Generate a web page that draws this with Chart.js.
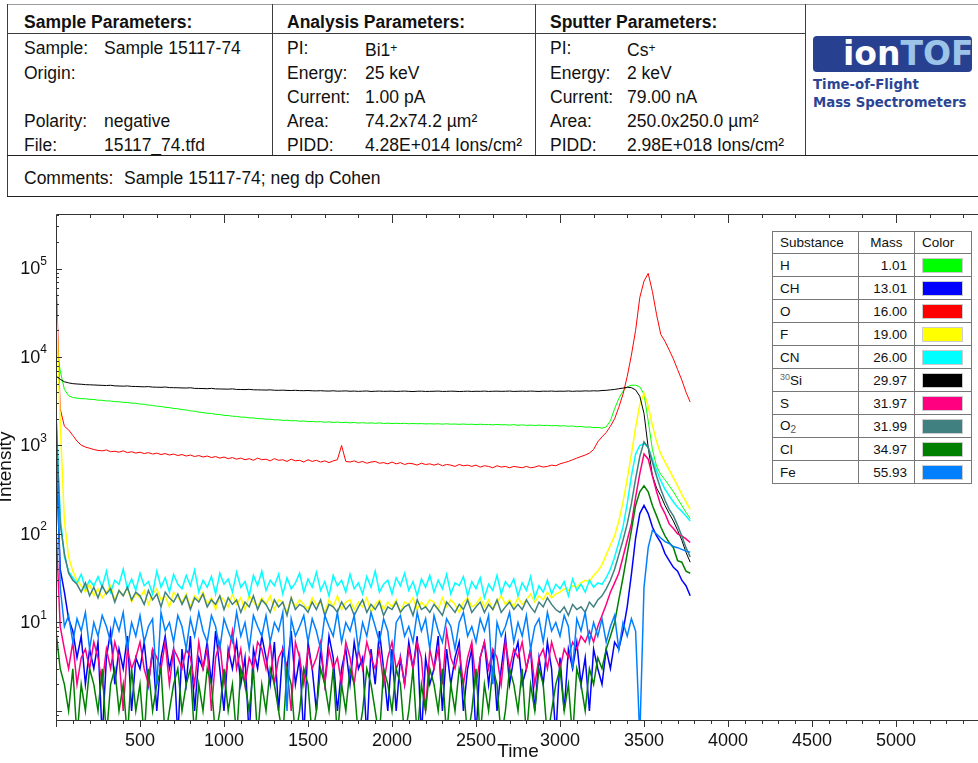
<!DOCTYPE html>
<html>
<head>
<meta charset="utf-8">
<title>Depth profile 15117_74</title>
<script src="https://cdn.jsdelivr.net/npm/chart.js@4.4.0/dist/chart.umd.min.js"></script>
<style>
    html, body { margin: 0; padding: 0; background: #fff; }
    body {
        width: 978px; height: 763px; overflow: hidden; position: relative;
        font-family: "Liberation Sans", Arial, sans-serif; color: #111;
    }
    .t { position: absolute; font-size: 17.5px; line-height: 20px; white-space: nowrap; }
    .b { font-weight: bold; }
    .ln { position: absolute; background: #3c3c3c; }
    .plus { font-size: 12px; vertical-align: 4px; }
    #logo {
        position: absolute; left: 813px; top: 36px; width: 159px; height: 36px;
        background: #27408f; border-radius: 4px; box-sizing: border-box;
        font-family: "DejaVu Sans", sans-serif; font-weight: bold; font-size: 33px;
        line-height: 36px; padding-left: 30px; color: #fff;
    }
    #logo span { color: #9cc3e8; }
    .logoText {
        position: absolute; left: 813px; font-family: "DejaVu Sans", sans-serif;
        font-weight: bold; font-size: 13.3px; line-height: 16px; color: #2b4594; white-space: nowrap;
    }
    #chartBox { position: absolute; left: -10px; top: 196px; width: 1000px; height: 567px; }
    #legendTable {
        position: absolute; left: 772px; top: 231px; width: 199px;
        border-collapse: collapse; table-layout: fixed; background: #fff;
        font-size: 13.5px; color: #111; border: 1px solid #555;
    }
    #legendTable td, #legendTable th {
        border: 1px solid #777; padding: 0 7px; height: 22px; font-weight: normal;
        white-space: nowrap; overflow: hidden;
    }
    #legendTable th { text-align: left; height: 21px; }
    #legendTable th.mass { text-align: center; padding: 0; }
    #legendTable td.mass { text-align: right; }
    .swatch { display: block; width: 39px; height: 13px; border: 1px solid #ccc; }
    .iso { font-size: 9px; vertical-align: 5px; color: #666; }
    .sub { font-size: 10px; vertical-align: -3px; color: #555; }
</style>
</head>
<body>

<!-- 上部のパラメータ表 -->
<div class="ln" style="left:7px;top:4px;width:971px;height:1px;background:#9a9a9a"></div>
<div class="ln" style="left:7px;top:4px;width:1px;height:193px"></div>
<div class="ln" style="left:7px;top:33px;width:798px;height:1px"></div>
<div class="ln" style="left:272px;top:4px;width:1px;height:152px"></div>
<div class="ln" style="left:535px;top:4px;width:1px;height:152px"></div>
<div class="ln" style="left:805px;top:4px;width:1px;height:152px"></div>
<div class="ln" style="left:7px;top:155px;width:971px;height:1px;background:#222"></div>
<div class="ln" style="left:7px;top:196px;width:971px;height:1px;background:#222"></div>

<div class="t b" style="left:24px;top:12px">Sample Parameters:</div>
<div class="t" style="left:24px;top:38px">Sample:</div><div class="t" style="left:104px;top:38px">Sample 15117-74</div>
<div class="t" style="left:24px;top:63px">Origin:</div>
<div class="t" style="left:24px;top:111px">Polarity:</div><div class="t" style="left:104px;top:111px">negative</div>
<div class="t" style="left:24px;top:135px">File:</div><div class="t" style="left:104px;top:135px">15117_74.tfd</div>

<div class="t b" style="left:287px;top:12px">Analysis Parameters:</div>
<div class="t" style="left:287px;top:38px">PI:</div><div class="t" style="left:365px;top:38px">Bi1<span class="plus">+</span></div>
<div class="t" style="left:287px;top:63px">Energy:</div><div class="t" style="left:365px;top:63px">25 keV</div>
<div class="t" style="left:287px;top:87px">Current:</div><div class="t" style="left:365px;top:87px">1.00 pA</div>
<div class="t" style="left:287px;top:111px">Area:</div><div class="t" style="left:365px;top:111px">74.2x74.2 µm²</div>
<div class="t" style="left:287px;top:135px">PIDD:</div><div class="t" style="left:365px;top:135px">4.28E+014 Ions/cm²</div>

<div class="t b" style="left:550px;top:12px">Sputter Parameters:</div>
<div class="t" style="left:550px;top:38px">PI:</div><div class="t" style="left:627px;top:38px">Cs<span class="plus">+</span></div>
<div class="t" style="left:550px;top:63px">Energy:</div><div class="t" style="left:627px;top:63px">2 keV</div>
<div class="t" style="left:550px;top:87px">Current:</div><div class="t" style="left:627px;top:87px">79.00 nA</div>
<div class="t" style="left:550px;top:111px">Area:</div><div class="t" style="left:627px;top:111px">250.0x250.0 µm²</div>
<div class="t" style="left:550px;top:135px">PIDD:</div><div class="t" style="left:627px;top:135px">2.98E+018 Ions/cm²</div>

<div id="logo">ion<span>TOF</span></div>
<div class="logoText" style="top:77px">Time-of-Flight</div>
<div class="logoText" style="top:95px">Mass Spectrometers</div>

<div class="t" style="left:24px;top:168px">Comments:</div>
<div class="t" style="left:124px;top:168px">Sample 15117-74; neg dp Cohen</div>

<div id="chartBox"><canvas id="depthChart" width="1000" height="567"></canvas></div>
<table id="legendTable"></table>

<script>
// 凡例の物質・質量・色
const substances = ['H', 'CH', 'O', 'F', 'CN', '30Si', 'S', 'O2', 'Cl', 'Fe'];
const masses = ['1.01', '13.01', '16.00', '19.00', '26.00', '29.97', '31.97', '31.99', '34.97', '55.93'];
const colors = ['#00ff00', '#0000ff', '#ff0000', '#ffff00', '#00ffff', '#000000', '#ff0080', '#408080', '#008000', '#0080ff'];

// 軸の目盛りラベル
const xTickLabels = [500, 1000, 1500, 2000, 2500, 3000, 3500, 4000, 4500, 5000];
const yTickExponents = [1, 2, 3, 4, 5];

// 測定時間 (s)
const time = [
    0, 25, 50, 75, 100, 125, 150, 175, 200, 225,
    250, 275, 300, 325, 350, 375, 400, 425, 450, 475,
    500, 525, 550, 575, 600, 625, 650, 675, 700, 725,
    750, 775, 800, 825, 850, 875, 900, 925, 950, 975,
    1000, 1025, 1050, 1075, 1100, 1125, 1150, 1175, 1200, 1225,
    1250, 1275, 1300, 1325, 1350, 1375, 1400, 1425, 1450, 1475,
    1500, 1525, 1550, 1575, 1600, 1625, 1650, 1675, 1700, 1725,
    1750, 1775, 1800, 1825, 1850, 1875, 1900, 1925, 1950, 1975,
    2000, 2025, 2050, 2075, 2100, 2125, 2150, 2175, 2200, 2225,
    2250, 2275, 2300, 2325, 2350, 2375, 2400, 2425, 2450, 2475,
    2500, 2525, 2550, 2575, 2600, 2625, 2650, 2675, 2700, 2725,
    2750, 2775, 2800, 2825, 2850, 2875, 2900, 2925, 2950, 2975,
    3000, 3025, 3050, 3075, 3100, 3125, 3150, 3175, 3200, 3225,
    3250, 3275, 3300, 3325, 3350, 3375, 3400, 3425, 3450, 3475,
    3500, 3525, 3550, 3575, 3600, 3625, 3650, 3675, 3700, 3725,
    3750, 3775
];

// 各イオンの強度 (counts)
const hydrogen = [
    15000, 7000, 4300, 3650, 3480, 3430, 3380, 3370, 3320, 3310,
    3250, 3240, 3190, 3180, 3130, 3120, 3070, 3060, 3010, 3000,
    2940, 2920, 2860, 2840, 2780, 2760, 2700, 2680, 2620, 2600,
    2540, 2520, 2460, 2440, 2380, 2360, 2310, 2300, 2250, 2240,
    2190, 2180, 2140, 2130, 2090, 2090, 2050, 2050, 2010, 2010,
    1980, 1980, 1950, 1950, 1920, 1930, 1900, 1910, 1880, 1890,
    1860, 1870, 1850, 1860, 1830, 1850, 1820, 1840, 1810, 1830,
    1800, 1820, 1790, 1810, 1790, 1800, 1780, 1800, 1770, 1790,
    1770, 1780, 1770, 1780, 1760, 1770, 1760, 1770, 1750, 1760,
    1750, 1760, 1740, 1760, 1740, 1750, 1730, 1750, 1730, 1740,
    1720, 1740, 1720, 1730, 1710, 1730, 1710, 1720, 1700, 1720,
    1690, 1710, 1690, 1700, 1680, 1700, 1680, 1690, 1670, 1680,
    1660, 1670, 1650, 1660, 1630, 1640, 1610, 1620, 1590, 1600,
    1570, 1620, 1900, 2600, 3400, 4100, 4600, 4800, 4800, 4600,
    3800, 1900, 900, 580, 470, 410, 350, 300, 250, 210,
    175, 150
];
const ch = [
    900, 40, 22, 11, 8, 4, 7, 2, 5, 3,
    6, 0.5, 4, 8, 2, 5, 3, 7, 1, 4,
    3, 6, 2, 5, 1, 4, 7, 3, 5, 0.5,
    5, 2, 7, 1, 4, 3, 6, 2, 8, 3,
    1, 5, 3, 6, 2, 4, 0.5, 5, 3, 7,
    4, 2, 6, 1, 5, 3, 8, 2, 4, 0.5,
    6, 3, 1, 5, 2, 7, 4, 1, 3, 5,
    2, 6, 3, 4, 0.5, 5, 2, 8, 3, 1,
    5, 1, 4, 2, 6, 3, 7, 0.5, 4, 2,
    3, 7, 1, 5, 2, 4, 6, 1, 3, 5,
    0.5, 4, 6, 2, 5, 1, 3, 7, 2, 4,
    6, 2, 3, 5, 1, 4, 2, 6, 3, 0.5,
    4, 1, 5, 3, 6, 2, 4, 1, 5, 3,
    2, 5, 3, 6, 5, 8, 15, 35, 90, 170,
    210, 170, 120, 95, 80, 60, 50, 42, 38, 30,
    26, 20
];
const oxygen = [
    88000, 2600, 1650, 1500, 1300, 1120, 1010, 960, 930, 900,
    880, 870, 890, 850, 860, 840, 870, 830, 850, 820,
    840, 810, 830, 800, 820, 790, 810, 780, 800, 770,
    790, 760, 780, 750, 770, 740, 760, 730, 750, 720,
    740, 710, 730, 700, 720, 690, 710, 680, 720, 690,
    700, 670, 710, 680, 690, 660, 700, 670, 680, 650,
    690, 660, 680, 650, 670, 640, 670, 690, 1000, 660,
    650, 670, 640, 660, 630, 650, 660, 630, 640, 620,
    650, 620, 640, 610, 630, 620, 600, 630, 610, 620,
    600, 620, 590, 610, 600, 580, 610, 590, 600, 580,
    600, 570, 590, 580, 560, 590, 570, 580, 560, 580,
    570, 560, 580, 560, 570, 590, 570, 580, 600, 590,
    620, 640, 660, 690, 720, 750, 780, 820, 900, 1100,
    1250, 1400, 1650, 2000, 2700, 3800, 6000, 10500, 20000, 47000,
    72000, 88000, 55000, 30000, 18000, 15000, 12000, 9500, 7200, 5500,
    4000, 3100
];
const fluorine = [
    50000, 1800, 140, 55, 38, 30, 26, 22, 27, 20,
    24, 19, 22, 26, 18, 23, 20, 25, 17, 21,
    19, 23, 16, 21, 24, 18, 20, 15, 22, 19,
    17, 21, 15, 20, 18, 22, 16, 19, 14, 20,
    18, 15, 21, 16, 19, 14, 20, 17, 15, 19,
    16, 20, 14, 18, 17, 13, 19, 15, 18, 16,
    14, 19, 16, 17, 13, 18, 15, 20, 14, 17,
    18, 14, 17, 15, 19, 13, 16, 18, 14, 17,
    15, 18, 13, 17, 16, 19, 14, 17, 15, 18,
    17, 14, 19, 15, 18, 16, 13, 17, 19, 15,
    16, 19, 15, 18, 14, 17, 20, 16, 18, 15,
    19, 16, 18, 21, 17, 20, 18, 22, 19, 21,
    22, 24, 23, 26, 25, 28, 30, 29, 34, 38,
    45, 58, 75, 95, 140, 230, 420, 800, 1600, 2900,
    3900, 2800, 1700, 1100, 800, 650, 530, 430, 350, 280,
    230, 190
];
const cn = [
    2500, 160, 55, 38, 32, 28, 35, 24, 30, 26,
    33, 25, 38, 22, 30, 27, 40, 24, 31, 23,
    36, 26, 29, 21, 38, 25, 32, 22, 35, 27,
    24, 34, 26, 39, 22, 30, 25, 33, 21, 36,
    27, 31, 22, 37, 25, 29, 20, 34, 26, 38,
    23, 30, 26, 35, 21, 32, 24, 28, 36, 22,
    31, 25, 37, 23, 29, 20, 34, 26, 30, 22,
    35, 24, 28, 21, 33, 25, 38, 22, 27, 30,
    21, 32, 26, 36, 23, 29, 20, 31, 25, 34,
    22, 30, 24, 35, 21, 28, 26, 33, 20, 29,
    24, 32, 19, 27, 23, 34, 21, 29, 25, 31,
    20, 28, 23, 33, 19, 26, 22, 30, 21, 27,
    24, 29, 20, 31, 23, 27, 22, 30, 25, 28,
    27, 32, 40, 55, 80, 120, 220, 450, 800, 1000,
    1050, 950, 700, 520, 400, 320, 270, 230, 200, 180,
    160, 140
];
const si30 = [
    6100, 5600, 5250, 5100, 5000, 4950, 4920, 4870, 4850, 4830,
    4800, 4780, 4760, 4790, 4720, 4700, 4680, 4710, 4650, 4640,
    4620, 4600, 4630, 4570, 4560, 4540, 4580, 4510, 4500, 4490,
    4470, 4460, 4490, 4420, 4410, 4400, 4380, 4420, 4360, 4350,
    4340, 4330, 4360, 4300, 4290, 4280, 4310, 4260, 4250, 4240,
    4230, 4250, 4210, 4200, 4220, 4190, 4180, 4200, 4170, 4160,
    4180, 4150, 4140, 4160, 4130, 4120, 4150, 4110, 4120, 4140,
    4100, 4120, 4090, 4110, 4130, 4080, 4100, 4120, 4090, 4100,
    4110, 4080, 4100, 4120, 4090, 4070, 4100, 4110, 4080, 4090,
    4100, 4120, 4080, 4090, 4110, 4100, 4070, 4090, 4110, 4080,
    4100, 4090, 4120, 4080, 4100, 4110, 4090, 4100, 4120, 4080,
    4100, 4110, 4090, 4120, 4100, 4080, 4110, 4100, 4120, 4090,
    4110, 4100, 4130, 4090, 4120, 4110, 4140, 4120, 4150, 4130,
    4180, 4200, 4250, 4300, 4380, 4450, 4550, 4500, 4250, 3600,
    2300, 950, 460, 330, 270, 210, 170, 140, 110, 85,
    62, 48
];
const sulfur = [
    120, 9, 5, 3, 6, 2, 4, 5, 3, 6,
    4, 2, 5, 3, 6, 4, 1, 5, 3, 4,
    6, 3, 2, 5, 4, 3, 6, 2, 5, 4,
    3, 5, 4, 2, 6, 3, 5, 1, 4, 6,
    2, 4, 8, 3, 5, 2, 4, 3, 6, 5,
    3, 6, 2, 4, 5, 3, 1, 6, 4, 2,
    5, 3, 4, 6, 2, 5, 3, 4, 2, 6,
    4, 2, 5, 3, 6, 4, 3, 5, 2, 4,
    6, 3, 4, 2, 5, 3, 6, 4, 1, 5,
    3, 5, 2, 8, 4, 3, 5, 2, 4, 6,
    2, 4, 6, 3, 5, 4, 2, 6, 3, 5,
    4, 6, 3, 5, 2, 4, 5, 3, 6, 4,
    3, 5, 4, 6, 5, 7, 6, 8, 6, 9,
    12, 16, 22, 28, 36, 55, 85, 130, 260, 480,
    800, 700, 450, 300, 210, 170, 130, 115, 100, 95,
    88, 80
];
const o2 = [
    2000, 130, 60, 36, 30, 27, 22, 28, 20, 25,
    19, 26, 21, 24, 17, 23, 20, 25, 18, 22,
    20, 16, 23, 18, 21, 15, 22, 19, 17, 21,
    16, 20, 14, 19, 17, 21, 15, 18, 16, 20,
    14, 19, 16, 18, 13, 17, 15, 20, 14, 18,
    16, 13, 18, 15, 17, 12, 19, 14, 16, 15,
    13, 17, 14, 18, 12, 16, 15, 13, 17, 14,
    16, 12, 15, 18, 13, 16, 14, 17, 12, 15,
    14, 17, 13, 15, 16, 12, 18, 14, 15, 13,
    16, 14, 12, 17, 15, 13, 16, 14, 18, 13,
    15, 17, 13, 16, 14, 18, 13, 15, 17, 14,
    16, 14, 18, 15, 13, 17, 15, 19, 16, 14,
    13, 15, 12, 16, 14, 15, 13, 17, 15, 18,
    20, 24, 30, 40, 58, 85, 130, 220, 420, 750,
    1100, 950, 650, 450, 320, 240, 190, 160, 125, 95,
    70, 55
];
const chlorine = [
    8, 3, 2, 1, 3, 0.5, 2, 1, 3, 2,
    1, 3, 0.5, 2, 3, 1, 2, 0.5, 3, 1,
    2, 0.5, 3, 1, 2, 3, 0.5, 1, 2, 3,
    1, 2, 3, 0.5, 2, 1, 3, 2, 0.5, 1,
    3, 1, 2, 0.5, 3, 2, 1, 3, 0.5, 2,
    1, 3, 2, 1, 0.5, 3, 2, 0.5, 1, 3,
    2, 0.5, 1, 3, 2, 1, 3, 0.5, 2, 1,
    3, 2, 0.5, 1, 3, 2, 1, 0.5, 3, 2,
    1, 3, 2, 0.5, 1, 3, 0.5, 2, 1, 3,
    2, 1, 3, 0.5, 2, 1, 3, 2, 0.5, 1,
    3, 0.5, 2, 1, 3, 2, 0.5, 1, 3, 2,
    1, 3, 0.5, 2, 1, 3, 2, 0.5, 1, 2,
    3, 1, 2, 0.5, 3, 2, 1, 3, 2, 4,
    3, 5, 7, 10, 18, 32, 60, 110, 210, 300,
    350, 300, 210, 160, 120, 95, 80, 70, 50, 48,
    38, 36
];
const iron = [
    2500, 25, 9, 12, 6, 11, 8, 13, 5, 10,
    7, 12, 9, 6, 11, 8, 13, 5, 10, 7,
    12, 6, 9, 11, 2, 13, 8, 10, 6, 12,
    9, 5, 11, 7, 13, 8, 6, 12, 9, 5,
    11, 8, 6, 13, 7, 10, 5, 12, 9, 7,
    12, 6, 10, 8, 13, 1, 11, 7, 9, 12,
    6, 11, 8, 5, 12, 9, 7, 13, 6, 10,
    8, 12, 5, 10, 7, 13, 9, 6, 11, 8,
    3, 10, 12, 7, 9, 6, 13, 8, 11, 5,
    12, 8, 6, 11, 9, 5, 10, 13, 7, 9,
    6, 11, 8, 12, 2, 10, 7, 9, 13, 6,
    10, 7, 12, 5, 9, 11, 6, 13, 8, 10,
    7, 12, 9, 3, 11, 8, 13, 6, 10, 7,
    11, 6, 9, 12, 5, 10, 7, 11, 8, 0.5,
    25, 70, 110, 100, 90, 82, 78, 72, 70, 67,
    64, 62
];

const series = [hydrogen, ch, oxygen, fluorine, cn, si30, sulfur, o2, chlorine, iron];
// 計数の少ないノイズ系列 (線を少し太くする)
const noisySeries = ['CH', 'F', 'CN', 'S', 'O2', 'Cl', 'Fe'];

/**
 * 凡例テーブルを作る
 */
function substanceHtml(name) {
    if (name === '30Si') return '<span class="iso">30</span>Si';
    if (name === 'O2') return 'O<span class="sub">2</span>';
    return name;
}

function renderLegendTable() {
    const table = document.getElementById('legendTable');
    let html = '<colgroup><col style="width:86px"><col style="width:56px"><col style="width:57px"></colgroup>';
    html += '<tr><th>Substance</th><th class="mass">Mass</th><th>Color</th></tr>';
    substances.forEach((name, i) => {
        html += `<tr><td>${substanceHtml(name)}</td><td class="mass">${masses[i]}</td>` +
            `<td><span class="swatch" style="background:${colors[i]}"></span></td></tr>`;
    });
    table.innerHTML = html;
}

// 枠線・内向き目盛り・10^n ラベルを描く
const frameTicks = {
    id: 'frameTicks',
    afterDraw(chart) {
        const { ctx, chartArea: a, scales: { x, y } } = chart;
        ctx.save();
        ctx.strokeStyle = '#333';
        ctx.lineWidth = 1;
        ctx.beginPath();
        ctx.moveTo(a.right + 20, a.top + 0.5);
        ctx.lineTo(a.left + 0.5, a.top + 0.5);
        ctx.lineTo(a.left + 0.5, a.bottom + 0.5);
        ctx.lineTo(a.right + 20, a.bottom + 0.5);

        x.ticks.forEach(t => {
            const v = Math.round(t.value);
            if (v % 100 !== 0) return;
            const px = Math.round(x.getPixelForValue(v)) + 0.5;
            ctx.moveTo(px, a.bottom);
            ctx.lineTo(px, a.bottom + (v % 500 === 0 ? 7 : 4));
            if (v % 200 === 0 && v > 0) {
                ctx.moveTo(px, a.top);
                ctx.lineTo(px, a.top + (v % 1000 === 0 ? 9 : 4));
            }
        });

        y.ticks.forEach(t => {
            const py = Math.round(y.getPixelForValue(t.value)) + 0.5;
            if (py < a.top + 1 || py > a.bottom - 1) return;
            const decade = Math.pow(10, Math.floor(Math.log10(t.value) + 1e-9));
            const mant = t.value / decade;
            if (Math.abs(mant - Math.round(mant)) > 1e-6) return;
            const major = Math.round(mant) === 1;
            ctx.moveTo(a.left, py);
            ctx.lineTo(a.left + (major ? 6 : 3), py);
        });
        ctx.stroke();

        ctx.fillStyle = '#111';
        yTickExponents.forEach(e => {
            const py = y.getPixelForValue(Math.pow(10, e));
            ctx.font = '12px "Liberation Sans", Arial, sans-serif';
            const sup = String(e);
            const supW = ctx.measureText(sup).width;
            const right = a.left - 9;
            ctx.textAlign = 'left';
            ctx.textBaseline = 'middle';
            ctx.fillText(sup, right - supW, py - 7);
            ctx.font = '18px "Liberation Sans", Arial, sans-serif';
            ctx.textAlign = 'right';
            ctx.fillText('10', right - supW, py + 1);
        });
        ctx.restore();
    }
};

function renderChart() {
    const datasets = series.map((vals, i) => ({
        label: substances[i],
        data: time.map((t, k) => ({ x: t, y: vals[k] })),
        borderColor: colors[i],
        backgroundColor: colors[i],
        borderWidth: noisySeries.includes(substances[i]) ? 1.5 : 1,
        pointRadius: 0,
        tension: 0,
        order: series.length - i
    }));

    new Chart(document.getElementById('depthChart'), {
        type: 'line',
        data: { datasets: datasets },
        options: {
            responsive: false,
            animation: false,
            devicePixelRatio: 1,
            layout: { padding: { top: 18, right: 8, bottom: 0, left: 0 } },
            plugins: {
                legend: { display: false },
                tooltip: { enabled: false }
            },
            scales: {
                x: {
                    type: 'linear',
                    min: 0,
                    max: 5500,
                    grid: { display: false, drawTicks: false },
                    border: { display: false },
                    ticks: {
                        stepSize: 100,
                        autoSkip: false,
                        maxRotation: 0,
                        padding: 10,
                        color: '#111',
                        font: { family: '"Liberation Sans", Arial, sans-serif', size: 18 },
                        callback: v => xTickLabels.includes(Math.round(v)) ? String(Math.round(v)) : ''
                    },
                    title: {
                        display: true,
                        text: 'Time',
                        color: '#111',
                        padding: { top: 0, bottom: 0 },
                        font: { family: '"Liberation Sans", Arial, sans-serif', size: 19 }
                    },
                    afterFit: scale => { scale.height = 43; }
                },
                y: {
                    type: 'logarithmic',
                    min: 0.79,
                    max: 413000,
                    grid: { display: false, drawTicks: false },
                    border: { display: false },
                    ticks: { display: false },
                    title: {
                        display: true,
                        text: 'Intensity',
                        color: '#111',
                        padding: { top: 4, bottom: 0 },
                        font: { family: '"Liberation Sans", Arial, sans-serif', size: 19 }
                    },
                    afterFit: scale => { scale.width = 66; }
                }
            }
        },
        plugins: [frameTicks]
    });
}

document.addEventListener('DOMContentLoaded', () => {
    renderLegendTable();
    renderChart();
});
</script>
</body>
</html>
